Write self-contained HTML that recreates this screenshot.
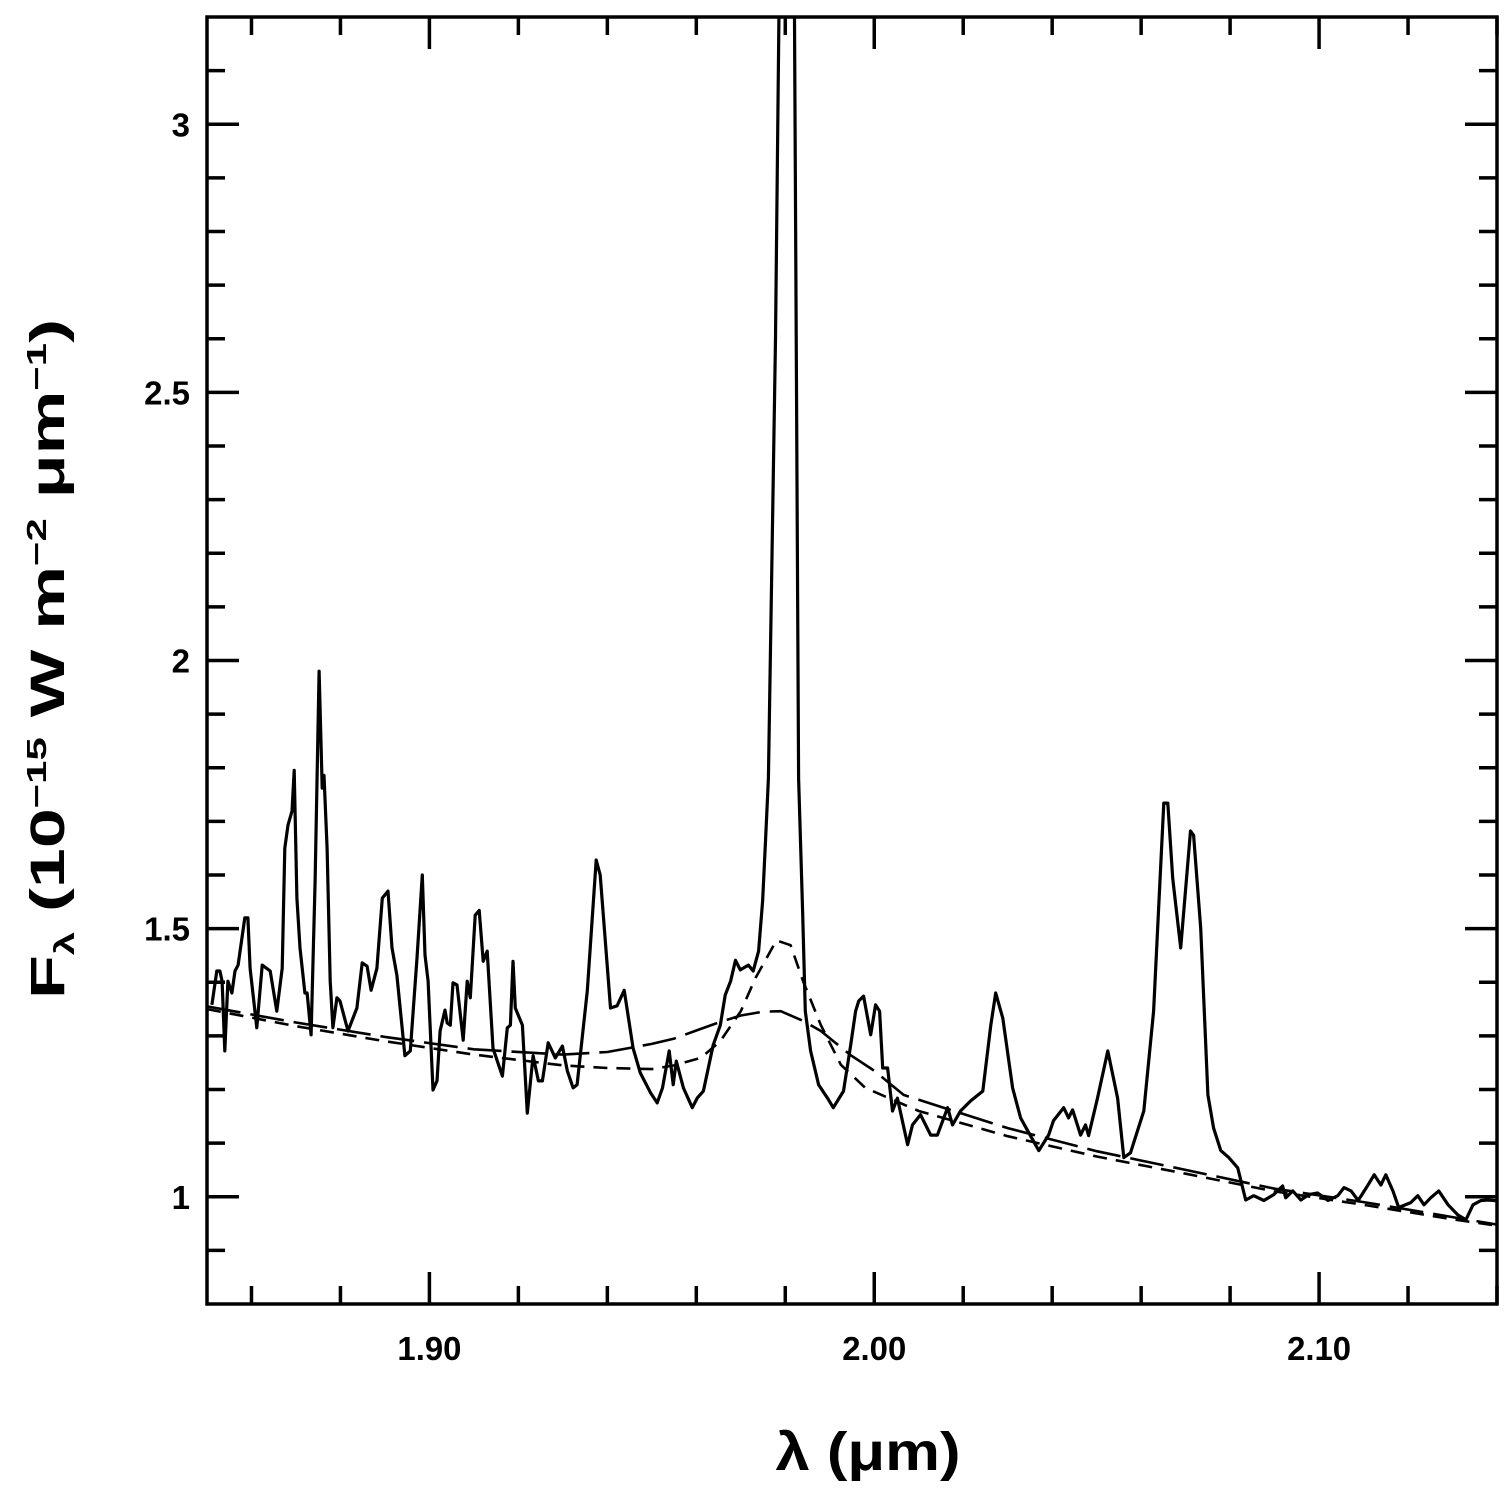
<!DOCTYPE html>
<html><head><meta charset="utf-8"><style>
html,body{margin:0;padding:0;background:#fff;}
svg text{font-family:"Liberation Sans",sans-serif;font-weight:bold;fill:#000;}
</style></head><body>
<svg id="chart" width="1511" height="1497" viewBox="0 0 1511 1497" xmlns="http://www.w3.org/2000/svg">
<defs><clipPath id="plotclip"><rect x="207" y="17" width="1290" height="1287"/></clipPath></defs>
<g id="curves" clip-path="url(#plotclip)"></g>
<rect x="207" y="17" width="1290" height="1287" fill="none" stroke="#000" stroke-width="3.5"/>
<g id="ticks"></g>
<text x="868" y="1470" font-size="54" text-anchor="middle" textLength="185" lengthAdjust="spacingAndGlyphs">λ (μm)</text>
<text transform="translate(64,659) rotate(-90)" font-size="48" text-anchor="middle" textLength="680" lengthAdjust="spacingAndGlyphs">F<tspan font-size="28" dy="10">λ</tspan><tspan dy="-10"> (10</tspan><tspan font-size="28" dy="-18">−15</tspan><tspan dy="18"> W m</tspan><tspan font-size="28" dy="-18">−2</tspan><tspan dy="18"> μm</tspan><tspan font-size="28" dy="-18">−1</tspan><tspan dy="18">)</tspan></text>
</svg>
<script>
const obsWave = [1.8511,1.8522,1.8529,1.8534,1.8540,1.8547,1.8556,1.8563,1.8570,1.8585,1.8592,1.8597,1.8612,1.8624,1.8642,1.8657,1.8669,1.8675,1.8682,1.8691,1.8696,1.8702,1.8709,1.8720,1.8725,1.8734,1.8743,1.8752,1.8759,1.8763,1.8770,1.8777,1.8783,1.8792,1.8799,1.8817,1.8837,1.8849,1.8860,1.8869,1.8882,1.8894,1.8907,1.8916,1.8927,1.8945,1.8957,1.8972,1.8984,1.8990,1.8997,1.9008,1.9017,1.9024,1.9035,1.9040,1.9047,1.9053,1.9062,1.9076,1.9085,1.9092,1.9103,1.9112,1.9121,1.9130,1.9143,1.9164,1.9175,1.9182,1.9188,1.9193,1.9209,1.9220,1.9233,1.9245,1.9254,1.9267,1.9283,1.9299,1.9310,1.9323,1.9332,1.9355,1.9375,1.9384,1.9407,1.9422,1.9438,1.9458,1.9474,1.9497,1.9512,1.9524,1.9539,1.9548,1.9555,1.9571,1.9591,1.9602,1.9616,1.9627,1.9638,1.9654,1.9665,1.9677,1.9688,1.9699,1.9717,1.9728,1.9740,1.9749,1.9755,1.9762,1.9778,1.9787,1.9805,1.9820,1.9830,1.9839,1.9845,1.9857,1.9875,1.9895,1.9908,1.9931,1.9947,1.9958,1.9965,1.9976,1.9992,2.0003,2.0012,2.0019,2.0030,2.0041,2.0052,2.0075,2.0086,2.0104,2.0127,2.0142,2.0165,2.0176,2.0194,2.0217,2.0244,2.0262,2.0273,2.0289,2.0311,2.0329,2.0345,2.0370,2.0392,2.0403,2.0426,2.0437,2.0446,2.0464,2.0475,2.0482,2.0502,2.0525,2.0547,2.0561,2.0576,2.0606,2.0628,2.0639,2.0651,2.0660,2.0671,2.0689,2.0711,2.0718,2.0734,2.0750,2.0763,2.0779,2.0797,2.0817,2.0835,2.0853,2.0876,2.0898,2.0918,2.0925,2.0941,2.0959,2.0977,2.0997,2.1020,2.1042,2.1056,2.1072,2.1088,2.1110,2.1124,2.1139,2.1150,2.1166,2.1179,2.1206,2.1222,2.1236,2.1251,2.1269,2.1290,2.1312,2.1330,2.1346,2.1364,2.1379,2.1393,2.1420];
const obsFlux = [1.358,1.421,1.421,1.402,1.272,1.402,1.380,1.421,1.432,1.520,1.520,1.426,1.315,1.432,1.421,1.346,1.426,1.650,1.693,1.719,1.795,1.557,1.464,1.380,1.380,1.302,1.588,1.980,1.762,1.786,1.650,1.402,1.315,1.371,1.365,1.309,1.352,1.436,1.430,1.385,1.426,1.557,1.570,1.464,1.413,1.263,1.272,1.445,1.600,1.451,1.402,1.199,1.216,1.309,1.348,1.324,1.320,1.399,1.395,1.292,1.402,1.371,1.525,1.534,1.439,1.458,1.277,1.225,1.315,1.320,1.439,1.352,1.320,1.156,1.263,1.216,1.216,1.287,1.259,1.281,1.235,1.203,1.209,1.384,1.628,1.600,1.352,1.356,1.385,1.277,1.231,1.194,1.175,1.203,1.272,1.209,1.253,1.203,1.166,1.184,1.197,1.240,1.283,1.320,1.376,1.402,1.441,1.423,1.432,1.421,1.458,1.551,1.655,1.780,2.600,3.300,3.500,3.300,1.780,1.533,1.346,1.272,1.209,1.184,1.166,1.197,1.283,1.346,1.365,1.374,1.302,1.358,1.346,1.240,1.240,1.160,1.184,1.097,1.134,1.153,1.115,1.115,1.166,1.134,1.160,1.179,1.197,1.320,1.380,1.333,1.203,1.147,1.123,1.086,1.115,1.142,1.166,1.147,1.162,1.115,1.134,1.114,1.184,1.272,1.184,1.073,1.082,1.160,1.346,1.533,1.734,1.734,1.594,1.464,1.682,1.674,1.501,1.190,1.128,1.086,1.073,1.054,0.994,1.002,0.993,1.004,1.020,0.998,1.011,0.994,1.004,1.007,0.993,1.002,1.017,1.011,0.993,1.022,1.041,1.022,1.041,1.011,0.980,0.989,1.002,0.985,0.998,1.011,0.985,0.966,0.957,0.985,0.993,0.994,0.993,0.990];
const modelAWave = [1.85,1.87,1.89,1.91,1.93,1.94,1.95,1.955,1.96,1.965,1.97,1.975,1.979,1.984,1.988,1.9947,2.00,2.0066,2.0156,2.03,2.05,2.07,2.09,2.11,2.13,2.14];
const modelAFlux = [1.355,1.325,1.298,1.275,1.265,1.27,1.285,1.295,1.31,1.325,1.338,1.345,1.346,1.328,1.309,1.264,1.235,1.19,1.166,1.128,1.085,1.05,1.015,0.99,0.962,0.948];
const modelBWave = [1.85,1.87,1.89,1.91,1.93,1.94,1.95,1.955,1.961,1.9654,1.970,1.9733,1.978,1.9812,1.984,1.988,1.9925,1.998,2.01,2.03,2.05,2.07,2.09,2.11,2.13,2.14];
const modelBFlux = [1.35,1.318,1.29,1.265,1.245,1.24,1.238,1.245,1.259,1.29,1.346,1.408,1.478,1.469,1.402,1.32,1.246,1.203,1.16,1.113,1.075,1.043,1.010,0.985,0.958,0.946];
const xMajorTicks = [1.90,2.00,2.10];
const xTickLabels = ["1.90","2.00","2.10"];
const yMajorTicks = [1,1.5,2,2.5,3];
const yTickLabels = ["1","1.5","2","2.5","3"];

const X0=207,X1=1497,Y0=1304,Y1=17, XMIN=1.85, XMAX=2.14, YMIN=0.8, YMAX=3.2;
function xs(v){return X0+(v-XMIN)/(XMAX-XMIN)*(X1-X0);}
function ys(v){return Y0-(v-YMIN)/(YMAX-YMIN)*(Y0-Y1);}
const NS='http://www.w3.org/2000/svg';
const curves=document.getElementById('curves');
function poly(w,f,dash,width){
  const p=document.createElementNS(NS,'polyline');
  p.setAttribute('points',w.map((v,i)=>xs(v).toFixed(1)+','+ys(f[i]).toFixed(1)).join(' '));
  p.setAttribute('fill','none');p.setAttribute('stroke','#000');
  p.setAttribute('stroke-width',width);p.setAttribute('stroke-linejoin','round');
  if(dash)p.setAttribute('stroke-dasharray',dash);
  curves.appendChild(p);return p;
}
const la=poly(modelAWave,modelAFlux,'34 10',2.6);


const lb=poly(modelBWave,modelBFlux,'14 9',2.6);


const lo=poly(obsWave,obsFlux,null,3.2);



const ticks=document.getElementById('ticks');
function line(x1,y1,x2,y2){const l=document.createElementNS(NS,'line');
  l.setAttribute('x1',x1);l.setAttribute('y1',y1);l.setAttribute('x2',x2);l.setAttribute('y2',y2);
  l.setAttribute('stroke','#000');l.setAttribute('stroke-width',3.5);ticks.appendChild(l);return l;}
for(let k=0;k<=14;k++){const v=1.86+k*0.02; if(v>XMAX)break;
  const major=Math.round(v*100)%10===0;
  const L=major?32:18; const x=xs(v);
  const t1=line(x,Y0,x,Y0-L);
  
  
  const t2=line(x,Y1,x,Y1+L);
  
  }
for(let k=1;k<=23;k++){const v=0.8+k*0.1; if(v>YMAX)break;
  const major=Math.abs(v*2-Math.round(v*2))<1e-6; const L=major?32:18; const y=ys(v);
  const t1=line(X0,y,X0+L,y);
  
  
  const t2=line(X1,y,X1-L,y);
  
  }
const svg=document.getElementById('chart');
xMajorTicks.forEach((v,i)=>{const t=document.createElementNS(NS,'text');
  t.setAttribute('x',xs(v));t.setAttribute('y',1360);t.setAttribute('font-size','33');t.setAttribute('text-anchor','middle');
  t.setAttribute('textLength','64');t.setAttribute('lengthAdjust','spacingAndGlyphs');
  t.textContent=xTickLabels[i];
  
  
  svg.appendChild(t);});
yMajorTicks.forEach((v,i)=>{const t=document.createElementNS(NS,'text');
  t.setAttribute('x',190);t.setAttribute('y',ys(v)+12);t.setAttribute('font-size','33');t.setAttribute('text-anchor','end');
  t.textContent=yTickLabels[i];
  
  
  svg.appendChild(t);});
</script>
</body></html>
